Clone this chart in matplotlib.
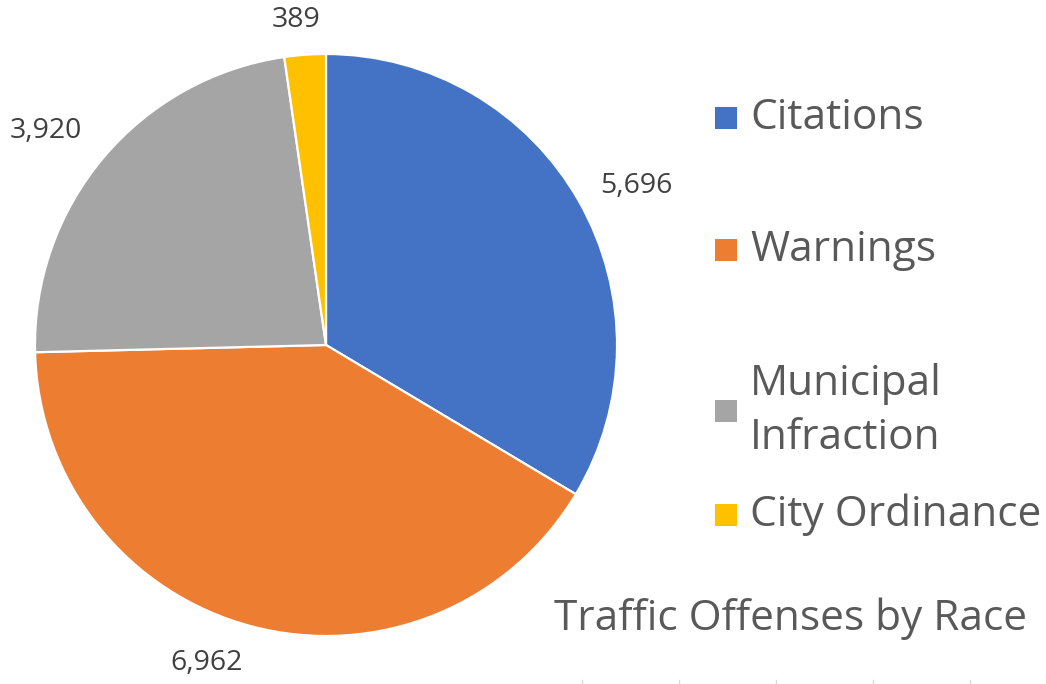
import numpy as np
import matplotlib
matplotlib.use('Agg')
import matplotlib.pyplot as plt
from matplotlib.patches import Rectangle
from matplotlib.lines import Line2D

# Data
categories = ['Citations', 'Warnings', 'Municipal\nInfraction', 'City Ordinance']
values = [5696, 6962, 3920, 389]
colors = ['#4472C4', '#ED7D31', '#A5A5A5', '#FFC000']
title = 'Traffic Offenses by Race'

plt.rcParams['font.family'] = ['Open Sans', 'DejaVu Sans']

W, H = 1046, 684
fig = plt.figure(figsize=(W / 100, H / 100), dpi=100)

# pie axes, centre at (326, 345) px from top-left, radius ~290 px
cx, cy, r = 326, 345, 291
ax = fig.add_axes([(cx - r) / W, (H - cy - r) / H, 2 * r / W, 2 * r / H])
wedges, texts = ax.pie(values, colors=colors, startangle=90, counterclock=False,
                       labels=[f'{v:,}' for v in values], labeldistance=1.0,
                       wedgeprops=dict(edgecolor='white', linewidth=1.6),
                       textprops=dict(fontsize=20.5, color='#404040'))
ax.set_aspect('equal')
ax.set_xlim(-1, 1)
ax.set_ylim(-1, 1)

# move data labels out to where they sit in the picture (distance, angle nudge)
label_dist = [1.20, 1.167, 1.213, 1.12]
label_nudge = [-2.4, -5.8, 2.8, 1.2]
for w, t, d, n in zip(wedges, texts, label_dist, label_nudge):
    ang = np.deg2rad((w.theta1 + w.theta2) / 2 + n)
    t.set_position((d * np.cos(ang), d * np.sin(ang)))
    t.set_ha('center')
    t.set_va('center')

# legend (drawn by hand because of the uneven spacing)
leg_y = [118, 250, 411, 515]
for lab, col, y in zip(categories, colors, leg_y):
    fig.patches.append(Rectangle((715 / W, (H - y - 11) / H), 22 / W, 22 / H,
                                 transform=fig.transFigure, facecolor=col, edgecolor='none'))
    fig.text(750 / W, (H - y) / H, lab, fontsize=30.5, color='#595959', va='center', ha='left',
             linespacing=1.4)

fig.text(790 / W, (H - 619) / H, title, fontsize=30.5, color='#595959', ha='center', va='center')

# faint tick remnants along the bottom edge
for x in [582, 679, 776, 873, 970]:
    fig.lines.append(Line2D([x / W, x / W], [0, 4 / H], transform=fig.transFigure,
                            color='#d9d9d9', linewidth=1))

fig.savefig('out.png', dpi=100)
